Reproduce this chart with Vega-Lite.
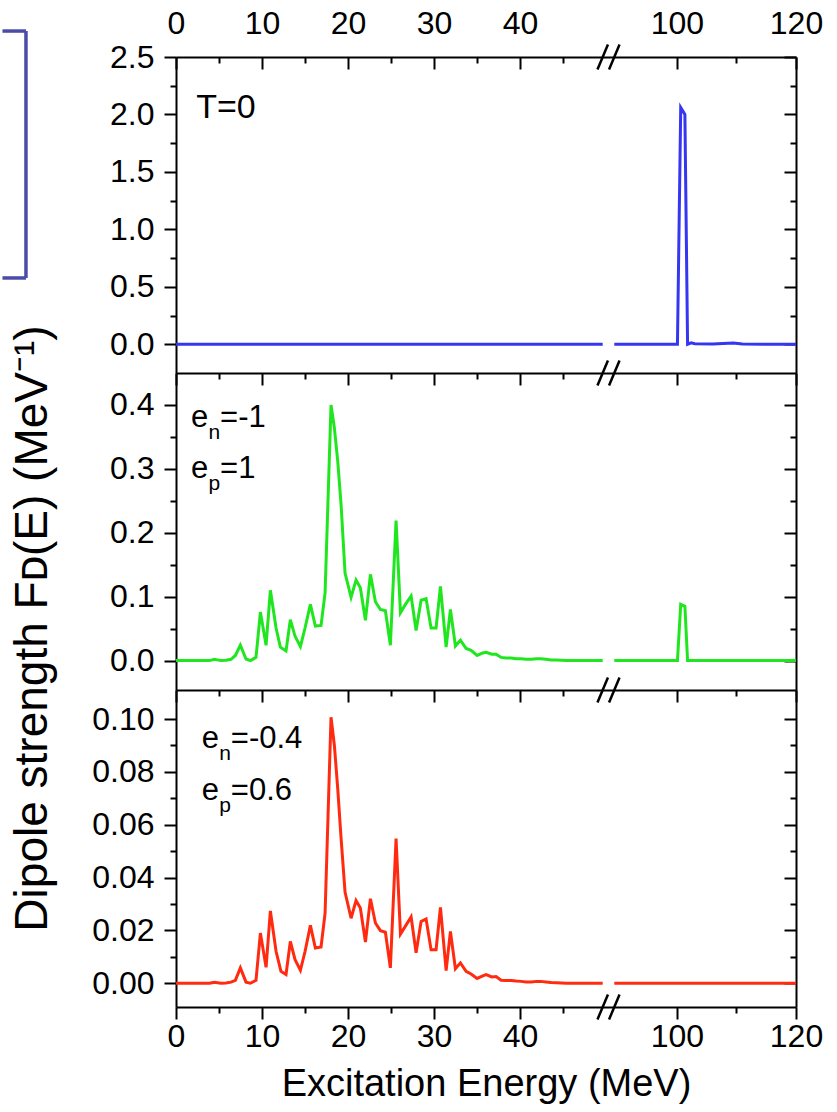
{
  "$schema": "https://vega.github.io/schema/vega-lite/v6.json",
  "background": "white",
  "padding": {"left": 0, "top": 7, "right": 10, "bottom": 100},
  "spacing": 0,
  "bounds": "flush",
  "datasets": {
    "blue": [
      {"E": 0, "v": 0, "seg": "a"}, {"E": 10, "v": 0, "seg": "a"}, {"E": 20, "v": 0, "seg": "a"}, {"E": 30, "v": 0, "seg": "a"}, {"E": 40, "v": 0, "seg": "a"}, {"E": 49.6, "v": 0, "seg": "a"},
      {"E": 89.5, "v": 0, "seg": "b"}, {"E": 95, "v": 0, "seg": "b"}, {"E": 100.1, "v": 0, "seg": "b"}, {"E": 100.65, "v": 2.06, "seg": "b"}, {"E": 101.35, "v": 2.0, "seg": "b"}, {"E": 101.8, "v": 0, "seg": "b"}, {"E": 102.4, "v": 0.012, "seg": "b"}, {"E": 103.0, "v": 0.004, "seg": "b"}, {"E": 106, "v": 0.003, "seg": "b"}, {"E": 109.5, "v": 0.01, "seg": "b"}, {"E": 111, "v": 0.003, "seg": "b"}, {"E": 115, "v": 0, "seg": "b"}, {"E": 120, "v": 0, "seg": "b"}
    ],
    "green": [
      {"E": 0, "v": 0, "seg": "a"}, {"E": 3.9, "v": 0, "seg": "a"}, {"E": 4.46, "v": 0.002, "seg": "a"}, {"E": 5.23, "v": 0, "seg": "a"}, {"E": 5.8, "v": 0.0005, "seg": "a"}, {"E": 6.4, "v": 0.002, "seg": "a"}, {"E": 6.9, "v": 0.008, "seg": "a"}, {"E": 7.48, "v": 0.024, "seg": "a"}, {"E": 8.14, "v": 0.0025, "seg": "a"}, {"E": 8.64, "v": 0, "seg": "a"}, {"E": 9.3, "v": 0.005, "seg": "a"}, {"E": 9.81, "v": 0.076, "seg": "a"}, {"E": 10.47, "v": 0.024, "seg": "a"}, {"E": 10.97, "v": 0.11, "seg": "a"}, {"E": 11.63, "v": 0.051, "seg": "a"}, {"E": 12.13, "v": 0.021, "seg": "a"}, {"E": 12.79, "v": 0.015, "seg": "a"}, {"E": 13.29, "v": 0.064, "seg": "a"}, {"E": 13.84, "v": 0.038, "seg": "a"}, {"E": 14.46, "v": 0.022, "seg": "a"}, {"E": 15.0, "v": 0.051, "seg": "a"}, {"E": 15.62, "v": 0.088, "seg": "a"}, {"E": 16.2, "v": 0.054, "seg": "a"}, {"E": 16.86, "v": 0.055, "seg": "a"}, {"E": 17.33, "v": 0.106, "seg": "a"}, {"E": 18.02, "v": 0.4, "seg": "a"}, {"E": 18.41, "v": 0.364, "seg": "a"}, {"E": 18.8, "v": 0.312, "seg": "a"}, {"E": 19.19, "v": 0.244, "seg": "a"}, {"E": 19.65, "v": 0.137, "seg": "a"}, {"E": 20.35, "v": 0.099, "seg": "a"}, {"E": 20.93, "v": 0.126, "seg": "a"}, {"E": 21.43, "v": 0.114, "seg": "a"}, {"E": 22.02, "v": 0.063, "seg": "a"}, {"E": 22.6, "v": 0.135, "seg": "a"}, {"E": 23.18, "v": 0.092, "seg": "a"}, {"E": 23.76, "v": 0.08, "seg": "a"}, {"E": 24.34, "v": 0.078, "seg": "a"}, {"E": 24.92, "v": 0.024, "seg": "a"}, {"E": 25.58, "v": 0.219, "seg": "a"}, {"E": 26.09, "v": 0.075, "seg": "a"}, {"E": 26.67, "v": 0.088, "seg": "a"}, {"E": 27.33, "v": 0.101, "seg": "a"}, {"E": 27.91, "v": 0.047, "seg": "a"}, {"E": 28.49, "v": 0.0945, "seg": "a"}, {"E": 29.07, "v": 0.097, "seg": "a"}, {"E": 29.65, "v": 0.051, "seg": "a"}, {"E": 30.23, "v": 0.051, "seg": "a"}, {"E": 30.74, "v": 0.116, "seg": "a"}, {"E": 31.4, "v": 0.021, "seg": "a"}, {"E": 31.9, "v": 0.08, "seg": "a"}, {"E": 32.48, "v": 0.023, "seg": "a"}, {"E": 33.06, "v": 0.032, "seg": "a"}, {"E": 33.72, "v": 0.019, "seg": "a"}, {"E": 34.3, "v": 0.016, "seg": "a"}, {"E": 35.0, "v": 0.008, "seg": "a"}, {"E": 35.66, "v": 0.012, "seg": "a"}, {"E": 36.05, "v": 0.013, "seg": "a"}, {"E": 36.71, "v": 0.01, "seg": "a"}, {"E": 37.21, "v": 0.01, "seg": "a"}, {"E": 37.79, "v": 0.005, "seg": "a"}, {"E": 38.37, "v": 0.004, "seg": "a"}, {"E": 38.95, "v": 0.004, "seg": "a"}, {"E": 39.53, "v": 0.003, "seg": "a"}, {"E": 40.1, "v": 0.003, "seg": "a"}, {"E": 40.7, "v": 0.002, "seg": "a"}, {"E": 41.3, "v": 0.002, "seg": "a"}, {"E": 41.9, "v": 0.003, "seg": "a"}, {"E": 42.4, "v": 0.003, "seg": "a"}, {"E": 43.0, "v": 0.002, "seg": "a"}, {"E": 43.6, "v": 0.001, "seg": "a"}, {"E": 44.2, "v": 0.001, "seg": "a"}, {"E": 44.8, "v": 0.0005, "seg": "a"}, {"E": 45.4, "v": 0, "seg": "a"}, {"E": 46.5, "v": 0, "seg": "a"}, {"E": 47.7, "v": 0, "seg": "a"}, {"E": 48.9, "v": 0, "seg": "a"}, {"E": 49.6, "v": 0, "seg": "a"},
      {"E": 89.5, "v": 0, "seg": "b"}, {"E": 95, "v": 0, "seg": "b"}, {"E": 100.1, "v": 0, "seg": "b"}, {"E": 100.65, "v": 0.088, "seg": "b"}, {"E": 101.35, "v": 0.085, "seg": "b"}, {"E": 101.8, "v": 0, "seg": "b"}, {"E": 105, "v": 0, "seg": "b"}, {"E": 110, "v": 0, "seg": "b"}, {"E": 120, "v": 0, "seg": "b"}
    ],
    "red": [
      {"E": 0, "v": 0, "seg": "a"}, {"E": 3.9, "v": 0, "seg": "a"}, {"E": 4.46, "v": 0.0004, "seg": "a"}, {"E": 5.23, "v": 0, "seg": "a"}, {"E": 5.8, "v": 0.0001, "seg": "a"}, {"E": 6.4, "v": 0.0004, "seg": "a"}, {"E": 6.9, "v": 0.0011, "seg": "a"}, {"E": 7.48, "v": 0.0058, "seg": "a"}, {"E": 8.14, "v": 0.0004, "seg": "a"}, {"E": 8.64, "v": 0, "seg": "a"}, {"E": 9.3, "v": 0.0011, "seg": "a"}, {"E": 9.81, "v": 0.019, "seg": "a"}, {"E": 10.47, "v": 0.006, "seg": "a"}, {"E": 10.97, "v": 0.0274, "seg": "a"}, {"E": 11.63, "v": 0.0121, "seg": "a"}, {"E": 12.2, "v": 0.0045, "seg": "a"}, {"E": 12.79, "v": 0.0033, "seg": "a"}, {"E": 13.29, "v": 0.0158, "seg": "a"}, {"E": 13.84, "v": 0.0089, "seg": "a"}, {"E": 14.46, "v": 0.0049, "seg": "a"}, {"E": 15.0, "v": 0.012, "seg": "a"}, {"E": 15.62, "v": 0.0219, "seg": "a"}, {"E": 16.2, "v": 0.0133, "seg": "a"}, {"E": 16.86, "v": 0.0137, "seg": "a"}, {"E": 17.33, "v": 0.0265, "seg": "a"}, {"E": 18.02, "v": 0.1007, "seg": "a"}, {"E": 18.41, "v": 0.09, "seg": "a"}, {"E": 18.8, "v": 0.0737, "seg": "a"}, {"E": 19.19, "v": 0.0548, "seg": "a"}, {"E": 19.65, "v": 0.0345, "seg": "a"}, {"E": 20.35, "v": 0.0246, "seg": "a"}, {"E": 20.93, "v": 0.0313, "seg": "a"}, {"E": 21.43, "v": 0.0285, "seg": "a"}, {"E": 22.02, "v": 0.0156, "seg": "a"}, {"E": 22.6, "v": 0.032, "seg": "a"}, {"E": 23.18, "v": 0.0228, "seg": "a"}, {"E": 23.76, "v": 0.0199, "seg": "a"}, {"E": 24.34, "v": 0.0193, "seg": "a"}, {"E": 24.92, "v": 0.0058, "seg": "a"}, {"E": 25.58, "v": 0.0548, "seg": "a"}, {"E": 26.09, "v": 0.0186, "seg": "a"}, {"E": 26.67, "v": 0.0216, "seg": "a"}, {"E": 27.33, "v": 0.0251, "seg": "a"}, {"E": 27.91, "v": 0.0115, "seg": "a"}, {"E": 28.49, "v": 0.0234, "seg": "a"}, {"E": 29.07, "v": 0.0243, "seg": "a"}, {"E": 29.65, "v": 0.0127, "seg": "a"}, {"E": 30.23, "v": 0.0127, "seg": "a"}, {"E": 30.74, "v": 0.0287, "seg": "a"}, {"E": 31.4, "v": 0.0048, "seg": "a"}, {"E": 31.9, "v": 0.0196, "seg": "a"}, {"E": 32.48, "v": 0.0055, "seg": "a"}, {"E": 33.06, "v": 0.0077, "seg": "a"}, {"E": 33.72, "v": 0.0045, "seg": "a"}, {"E": 34.3, "v": 0.0035, "seg": "a"}, {"E": 35.0, "v": 0.0018, "seg": "a"}, {"E": 35.66, "v": 0.0028, "seg": "a"}, {"E": 36.05, "v": 0.0033, "seg": "a"}, {"E": 36.71, "v": 0.0024, "seg": "a"}, {"E": 37.21, "v": 0.0025, "seg": "a"}, {"E": 37.79, "v": 0.0011, "seg": "a"}, {"E": 38.37, "v": 0.001, "seg": "a"}, {"E": 38.95, "v": 0.001, "seg": "a"}, {"E": 39.53, "v": 0.0008, "seg": "a"}, {"E": 40.1, "v": 0.0007, "seg": "a"}, {"E": 40.7, "v": 0.0005, "seg": "a"}, {"E": 41.3, "v": 0.0005, "seg": "a"}, {"E": 41.9, "v": 0.0007, "seg": "a"}, {"E": 42.4, "v": 0.0007, "seg": "a"}, {"E": 43.0, "v": 0.0005, "seg": "a"}, {"E": 43.6, "v": 0.0003, "seg": "a"}, {"E": 44.2, "v": 0.0002, "seg": "a"}, {"E": 44.8, "v": 0.0001, "seg": "a"}, {"E": 45.4, "v": 0, "seg": "a"}, {"E": 46.5, "v": 0, "seg": "a"}, {"E": 47.7, "v": 0, "seg": "a"}, {"E": 48.9, "v": 0, "seg": "a"}, {"E": 49.6, "v": 0, "seg": "a"},
      {"E": 89.5, "v": 0, "seg": "b"}, {"E": 100, "v": 0, "seg": "b"}, {"E": 110, "v": 0, "seg": "b"}, {"E": 120, "v": 0, "seg": "b"}
    ],
    "brk1": [{"E": 49.6, "v": -0.25}, {"E": 89.5, "v": -0.25}, {"E": 49.6, "v": 2.5}, {"E": 89.5, "v": 2.5}],
    "brk2": [{"E": 49.6, "v": -0.046}, {"E": 89.5, "v": -0.046}],
    "brk3": [{"E": 49.6, "v": -0.009}, {"E": 89.5, "v": -0.009}],
    "box": [
      {"x1": -20.17, "x2": -17.44, "y1": 2.726, "y2": 2.726},
      {"x1": -17.44, "x2": -17.44, "y1": 0.577, "y2": 2.726},
      {"x1": -20.17, "x2": -17.44, "y1": 0.577, "y2": 0.577}
    ],
    "lab1": [{"E": 2.35, "v": 1.969, "t": "T=0"}],
    "lab2": [{"E": 1.75, "v": 0.3655, "b": "e", "s": "n", "r": "=-1"}, {"E": 1.75, "v": 0.286, "b": "e", "s": "p", "r": "=1"}],
    "lab3": [{"E": 3.0, "v": 0.0892, "b": "e", "s": "n", "r": "=-0.4"}, {"E": 3.0, "v": 0.0694, "b": "e", "s": "p", "r": "=0.6"}]
  },
  "vconcat": [
    {
      "width": 620,
      "height": 316,
      "resolve": {"axis": {"x": "independent", "y": "independent"}},
      "layer": [
        {
          "data": {"name": "box"},
          "mark": {"type": "rule", "color": "#4b4ba8", "strokeWidth": 3.5},
          "encoding": {
            "x": {"field": "x1", "type": "quantitative", "scale": {"domain": [0, 49.6, 89.5, 120], "range": [0, 426.7, 438.3, 620], "nice": false, "zero": false},
              "axis": {"orient": "top", "values": [5, 15, 25, 35, 45, 110], "labels": false, "domain": false, "tickSize": -6, "title": null}},
            "x2": {"field": "x2"},
            "y": {"field": "y1", "type": "quantitative", "scale": {"domain": [-0.25, 2.5], "nice": false, "zero": false},
              "axis": {"orient": "right", "values": [0.25, 0.75, 1.25, 1.75, 2.25], "labels": false, "domain": false, "tickSize": -6, "title": null}},
            "y2": {"field": "y2"}
          }
        },
        {
          "data": {"name": "blue"},
          "mark": {"type": "line", "color": "#3535f2", "strokeWidth": 3},
          "encoding": {
            "x": {"field": "E", "type": "quantitative",
              "axis": {"orient": "bottom", "values": [0, 10, 20, 30, 40, 100, 120], "labels": false, "title": null, "tickSize": 12}},
            "y": {"field": "v", "type": "quantitative",
              "axis": {"orient": "left", "values": [0, 0.5, 1, 1.5, 2, 2.5], "format": ".1f", "title": null, "labelPadding": 10, "tickSize": 12}},
            "detail": {"field": "seg"}
          }
        },
        {
          "data": {"name": "brk1"},
          "mark": {"type": "point", "shape": "M-0.42,1L0.42,-1", "size": 625, "filled": false, "color": "black", "strokeWidth": 2.5, "opacity": 1},
          "encoding": {
            "x": {"field": "E", "type": "quantitative",
              "axis": {"orient": "top", "values": [0, 10, 20, 30, 40, 100, 120], "title": null, "labelPadding": 29, "tickSize": -12}},
            "y": {"field": "v", "type": "quantitative",
              "axis": {"orient": "right", "values": [0, 0.5, 1, 1.5, 2, 2.5], "title": null, "labels": false, "tickSize": -12}}
          }
        },
        {
          "data": {"name": "lab1"},
          "mark": {"type": "text", "align": "left", "baseline": "alphabetic", "fontSize": 34, "font": "Liberation Sans", "color": "black"},
          "encoding": {
            "x": {"field": "E", "type": "quantitative",
              "axis": {"orient": "bottom", "values": [5, 15, 25, 35, 45, 110], "labels": false, "domain": false, "tickSize": 6, "title": null}},
            "y": {"field": "v", "type": "quantitative",
              "axis": {"orient": "left", "values": [0.25, 0.75, 1.25, 1.75, 2.25], "labels": false, "domain": false, "tickSize": 6, "title": null}},
            "text": {"field": "t"}
          }
        }
      ]
    },
    {
      "width": 620,
      "height": 317,
      "resolve": {"axis": {"x": "independent", "y": "independent"}},
      "layer": [
        {
          "data": {"name": "green"},
          "mark": {"type": "line", "color": "#20e620", "strokeWidth": 3},
          "encoding": {
            "x": {"field": "E", "type": "quantitative", "scale": {"domain": [0, 49.6, 89.5, 120], "range": [0, 426.7, 438.3, 620], "nice": false, "zero": false},
              "axis": {"orient": "bottom", "values": [0, 10, 20, 30, 40, 100, 120], "labels": false, "title": null, "tickSize": 12}},
            "y": {"field": "v", "type": "quantitative", "scale": {"domain": [-0.046, 0.45], "nice": false, "zero": false},
              "axis": {"orient": "left", "values": [0, 0.1, 0.2, 0.3, 0.4], "format": ".1f", "labelPadding": 10, "tickSize": 12,
                "title": "Dipole strength Fᴅ(E)  (MeV⁻¹)", "titleFontSize": 46, "titleX": -130, "titleY": 255, "titleAngle": 270,
                "titleBaseline": "alphabetic", "titleAlign": "center"}},
            "detail": {"field": "seg"}
          }
        },
        {
          "data": {"name": "brk2"},
          "mark": {"type": "point", "shape": "M-0.42,1L0.42,-1", "size": 625, "filled": false, "color": "black", "strokeWidth": 2.5, "opacity": 1},
          "encoding": {
            "x": {"field": "E", "type": "quantitative",
              "axis": {"orient": "bottom", "values": [5, 15, 25, 35, 45, 110], "labels": false, "domain": false, "tickSize": 6, "title": null}},
            "y": {"field": "v", "type": "quantitative",
              "axis": {"orient": "right", "values": [0, 0.1, 0.2, 0.3, 0.4], "title": null, "labels": false, "tickSize": -12}}
          }
        },
        {
          "data": {"name": "lab2"},
          "mark": {"type": "text", "align": "left", "baseline": "alphabetic", "fontSize": 31, "font": "Liberation Sans", "color": "black"},
          "encoding": {
            "x": {"field": "E", "type": "quantitative", "axis": null},
            "y": {"field": "v", "type": "quantitative",
              "axis": {"orient": "left", "values": [0.05, 0.15, 0.25, 0.35], "labels": false, "domain": false, "tickSize": 6, "title": null}},
            "text": {"field": "b"}
          }
        },
        {
          "data": {"name": "lab2"},
          "mark": {"type": "text", "align": "left", "baseline": "alphabetic", "fontSize": 21, "font": "Liberation Sans", "color": "black", "dx": 17.5, "dy": 12},
          "encoding": {
            "x": {"field": "E", "type": "quantitative", "axis": null},
            "y": {"field": "v", "type": "quantitative",
              "axis": {"orient": "right", "values": [0.05, 0.15, 0.25, 0.35], "labels": false, "domain": false, "tickSize": -6, "title": null}},
            "text": {"field": "s"}
          }
        },
        {
          "data": {"name": "lab2"},
          "mark": {"type": "text", "align": "left", "baseline": "alphabetic", "fontSize": 31, "font": "Liberation Sans", "color": "black", "dx": 29},
          "encoding": {"x": {"field": "E", "type": "quantitative", "axis": null}, "y": {"field": "v", "type": "quantitative", "axis": null}, "text": {"field": "r"}}
        }
      ]
    },
    {
      "width": 620,
      "height": 317,
      "resolve": {"axis": {"x": "independent", "y": "independent"}},
      "layer": [
        {
          "data": {"name": "red"},
          "mark": {"type": "line", "color": "#ff2a10", "strokeWidth": 3},
          "encoding": {
            "x": {"field": "E", "type": "quantitative", "scale": {"domain": [0, 49.6, 89.5, 120], "range": [0, 426.7, 438.3, 620], "nice": false, "zero": false},
              "axis": {"orient": "bottom", "values": [0, 10, 20, 30, 40, 100, 120], "labelPadding": 2, "tickSize": 12,
                "title": "Excitation Energy (MeV)", "titleFontSize": 38, "titlePadding": 13}},
            "y": {"field": "v", "type": "quantitative", "scale": {"domain": [-0.009, 0.111], "nice": false, "zero": false},
              "axis": {"orient": "left", "values": [0, 0.02, 0.04, 0.06, 0.08, 0.1], "format": ".2f", "title": null, "labelPadding": 10, "tickSize": 12}},
            "detail": {"field": "seg"}
          }
        },
        {
          "data": {"name": "brk3"},
          "mark": {"type": "point", "shape": "M-0.42,1L0.42,-1", "size": 625, "filled": false, "color": "black", "strokeWidth": 2.5, "opacity": 1},
          "encoding": {
            "x": {"field": "E", "type": "quantitative",
              "axis": {"orient": "bottom", "values": [5, 15, 25, 35, 45, 110], "labels": false, "domain": false, "tickSize": 6, "title": null}},
            "y": {"field": "v", "type": "quantitative",
              "axis": {"orient": "right", "values": [0, 0.02, 0.04, 0.06, 0.08, 0.1], "title": null, "labels": false, "tickSize": -12}}
          }
        },
        {
          "data": {"name": "lab3"},
          "mark": {"type": "text", "align": "left", "baseline": "alphabetic", "fontSize": 31, "font": "Liberation Sans", "color": "black"},
          "encoding": {
            "x": {"field": "E", "type": "quantitative", "axis": null},
            "y": {"field": "v", "type": "quantitative",
              "axis": {"orient": "left", "values": [0.01, 0.03, 0.05, 0.07, 0.09], "labels": false, "domain": false, "tickSize": 6, "title": null}},
            "text": {"field": "b"}
          }
        },
        {
          "data": {"name": "lab3"},
          "mark": {"type": "text", "align": "left", "baseline": "alphabetic", "fontSize": 21, "font": "Liberation Sans", "color": "black", "dx": 17.5, "dy": 12},
          "encoding": {
            "x": {"field": "E", "type": "quantitative", "axis": null},
            "y": {"field": "v", "type": "quantitative",
              "axis": {"orient": "right", "values": [0.01, 0.03, 0.05, 0.07, 0.09], "labels": false, "domain": false, "tickSize": -6, "title": null}},
            "text": {"field": "s"}
          }
        },
        {
          "data": {"name": "lab3"},
          "mark": {"type": "text", "align": "left", "baseline": "alphabetic", "fontSize": 31, "font": "Liberation Sans", "color": "black", "dx": 29},
          "encoding": {"x": {"field": "E", "type": "quantitative", "axis": null}, "y": {"field": "v", "type": "quantitative", "axis": null}, "text": {"field": "r"}}
        }
      ]
    }
  ],
  "config": {
    "view": {"stroke": null},
    "font": "Liberation Sans",
    "axis": {
      "grid": false,
      "labelFont": "Liberation Sans",
      "labelFontSize": 32,
      "labelColor": "black",
      "titleFont": "Liberation Sans",
      "titleColor": "black",
      "titleFontWeight": "normal",
      "tickColor": "black",
      "tickWidth": 2,
      "domainColor": "black",
      "domainWidth": 2,
      "labelFlush": false,
      "labelOverlap": false,
      "titleLimit": 2000,
      "labelLimit": 500
    }
  }
}
